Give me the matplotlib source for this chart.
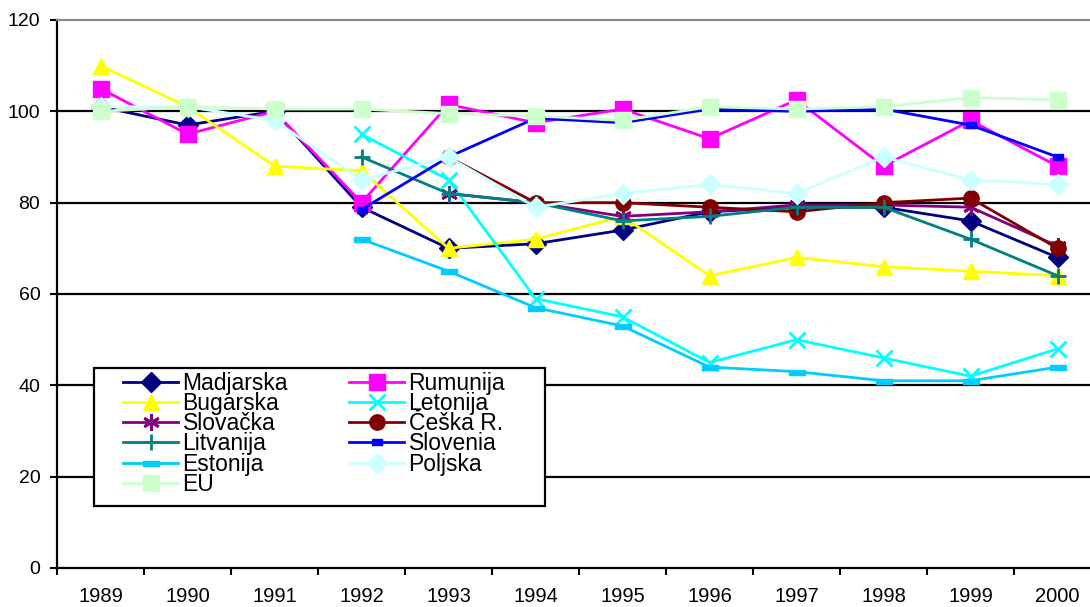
import numpy as np
import matplotlib
matplotlib.use("Agg")
import matplotlib.pyplot as plt
from matplotlib.patches import Rectangle

plt.rcParams['font.family'] = ['Liberation Sans', 'DejaVu Sans']

nan = np.nan
years = ['1989', '1990', '1991', '1992', '1993', '1994',
         '1995', '1996', '1997', '1998', '1999', '2000']

madjarska = [101, 97, 100, 79, 70, 71, 74, 78, 79, 79, 76, 68]
rumunija = [105, 95, 100, 80, 101.5, 97.5, 100.5, 94, 102.5, 88, 98, 88]
bugarska = [110, 101, 88, 87, 70, 72, 77, 64, 68, 66, 65, 64]
letonija = [nan, nan, nan, 95, 85, 59, 55, 45, 50, 46, 42, 48]
slovacka = [nan, nan, nan, nan, 82, 80, 77, 78, 79.5, 79.5, 79, 70.5]
ceska = [nan, nan, nan, nan, 90, 80, 80, 79, 78, 80, 81, 70]
litvanija = [nan, nan, nan, 90, 82, 80, 76, 77, 79, 79, 72, 64]
slovenia = [nan, nan, nan, 78.5, 90, 98.5, 97.5, 100.5, 100, 100.5, 97, 90]
estonija = [nan, nan, nan, 72, 65, 57, 53, 44, 43, 41, 41, 44]
poljska = [101, 101, 98, 85, 90, 79, 82, 84, 82, 90, 85, 84]
eu = [100, 101, 100.5, 100.5, 99.5, 99, 98, 101, 100.5, 101, 103, 102.5]

# small bar-shaped markers (excel "dash")
dash_short = [(-1, -0.6), (1, -0.6), (1, 0.6), (-1, 0.6), (-1, -0.6)]
dash_long = [(-1, -0.3), (1, -0.3), (1, 0.3), (-1, 0.3), (-1, -0.3)]

series = [
    ('Madjarska', madjarska, '#000080', dict(marker='D', ms=10)),
    ('Rumunija', rumunija, '#FF00FF', dict(marker='s', ms=11)),
    ('Bugarska', bugarska, '#FFFF00', dict(marker='^', ms=11)),
    ('Letonija', letonija, '#00FFFF', dict(marker='x', ms=11, mew=2)),
    ('Slovačka', slovacka, '#800080', dict(marker=(6, 2, 0), ms=12, mew=2)),
    ('Češka R.', ceska, '#800000', dict(marker='o', ms=11)),
    ('Litvanija', litvanija, '#008080', dict(marker='+', ms=12, mew=2)),
    ('Slovenia', slovenia, '#0000FF', dict(marker=dash_short, ms=7)),
    ('Estonija', estonija, '#00CCFF', dict(marker=dash_long, ms=12)),
    ('Poljska', poljska, '#CCFFFF', dict(marker='D', ms=10)),
    ('EU', eu, '#CCFFCC', dict(marker='s', ms=11)),
]

fig = plt.figure(figsize=(10.9, 6.07), dpi=100)
ax = fig.add_axes([57 / 1090, 39 / 607, 1044 / 1090, 548 / 607])

x = np.arange(len(years))
handles = {}
for name, vals, col, mk in series:
    ln, = ax.plot(x, vals, color=col, lw=2, label=name,
                  markerfacecolor=col, markeredgecolor=col, **mk)
    handles[name] = ln

ax.set_xlim(-0.5, 11.5)
ax.set_ylim(0, 120)
ax.set_yticks(range(0, 121, 20))
ax.tick_params(axis='y', labelsize=14, length=5, width=1.5, pad=7, direction='out')

for yv in range(20, 101, 20):
    ax.axhline(yv, color='black', lw=1.6, zorder=0.5)

ax.set_xticks(np.arange(-0.5, 12, 1))
ax.set_xticklabels([])
ax.tick_params(axis='x', which='major', length=5, width=1.5, direction='out')
ax.set_xticks(x, minor=True)
ax.set_xticklabels(years, minor=True)
ax.tick_params(axis='x', which='minor', length=0, labelsize=14.5, pad=14)

ax.spines['left'].set_linewidth(1.6)
ax.spines['bottom'].set_linewidth(1.6)
ax.spines['top'].set_color('#888888')
ax.spines['top'].set_linewidth(1.6)
ax.spines['right'].set_visible(False)

# legend frame drawn by hand so its size matches
box = Rectangle((94 / 1090, 1 - 506 / 607), 451 / 1090, 138 / 607,
                transform=fig.transFigure, facecolor='white',
                edgecolor='black', lw=1.6, zorder=4.5)
ax.add_patch(box)
box.set_clip_on(False)

order = ['Madjarska', 'Bugarska', 'Slovačka', 'Litvanija', 'Estonija', 'EU',
         'Rumunija', 'Letonija', 'Češka R.', 'Slovenia', 'Poljska']
leg = ax.legend([handles[n] for n in order], order, ncol=2,
                loc='upper left', bbox_to_anchor=(123 / 1090, 1 - 372 / 607),
                bbox_transform=fig.transFigure, borderaxespad=0,
                fontsize=16.5, frameon=False,
                handlelength=2.4, handletextpad=0.2,
                columnspacing=2.66, labelspacing=-0.125, borderpad=0)
leg.set_zorder(5)

fig.savefig('out.png', dpi=100)
